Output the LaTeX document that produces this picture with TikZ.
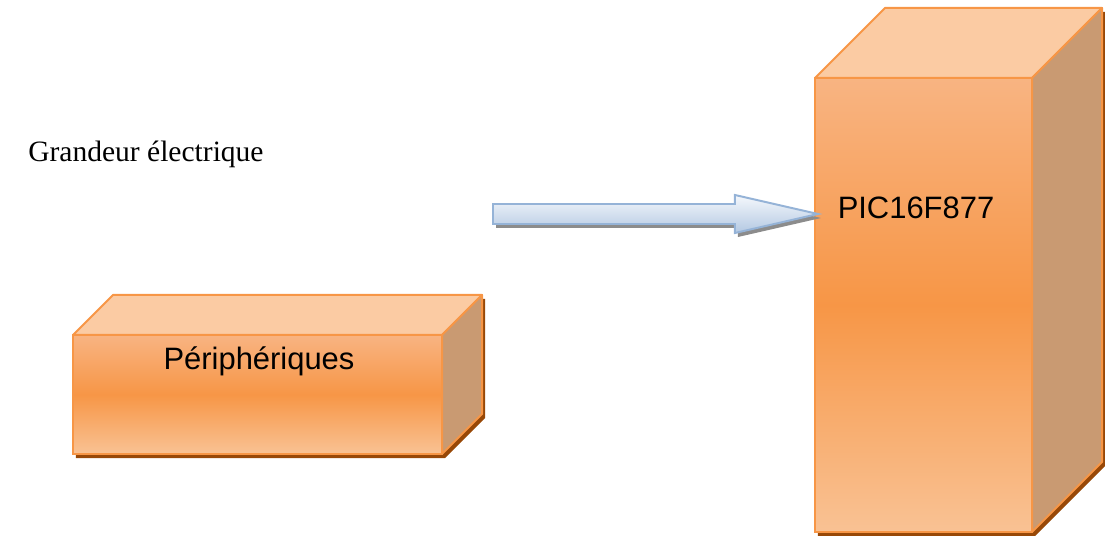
\documentclass[tikz,border=0pt]{standalone}
\usepackage{fontspec}
\setmainfont{Liberation Serif}
\setsansfont{Liberation Sans}
\usepackage{tikz}
\usetikzlibrary{positioning,calc,backgrounds}
\definecolor{boxEdge}{HTML}{F79646}
\definecolor{boxHigh}{HTML}{F8B482}
\definecolor{boxLow}{HTML}{F9C294}
\definecolor{boxTop}{HTML}{FBCBA3}
\definecolor{boxSide}{HTML}{C99A72}
\definecolor{boxShade}{HTML}{984807}
\definecolor{arrEdge}{HTML}{95B3D7}
\definecolor{arrHigh}{HTML}{F5F8FC}
\definecolor{arrLow}{HTML}{B3C8E2}
\tikzset{
  front/.style={draw=boxEdge, line width=1.4pt, inner sep=0pt, outer sep=0pt,
                top color=boxHigh, bottom color=boxLow, middle color=boxEdge},
  topface/.style={draw=boxEdge, line width=1.4pt, fill=boxTop, line join=round},
  sideface/.style={draw=boxEdge, line width=1.4pt, fill=boxSide, line join=round},
  dropshade/.style={fill=boxShade},
  boxtext/.style={font=\sffamily\fontsize{22}{26}\selectfont, inner sep=0pt},
  caption/.style={font=\rmfamily\fontsize{21}{25}\selectfont, inner sep=0pt},
  blockarrow/.style={draw=arrEdge, line width=1.4pt, line join=miter,
                     top color=arrHigh, bottom color=arrLow},
  arrowshade/.style={fill=black!45}
}

\begin{document}
\begin{tikzpicture}[x=0.025cm, y=-0.025cm]
    \useasboundingbox (0,0) rectangle (1105,536);

    %% peripherals block (depth 40)
    \node[front, minimum width=9.225cm, minimum height=2.975cm] (per) at (257.5,394.5) {};
    \begin{scope}[on background layer]
      \fill[dropshade] ([shift={(3,4)}]per.north west) -- ([shift={(43,-36)}]per.north west)
          -- ([shift={(43,-36)}]per.north east) -- ([shift={(43,-36)}]per.south east)
          -- ([shift={(3,4)}]per.south east) -- ([shift={(3,4)}]per.south west) -- cycle;
    \end{scope}
    \filldraw[topface] (per.north west) -- ([shift={(40,-40)}]per.north west)
        -- ([shift={(40,-40)}]per.north east) -- (per.north east) -- cycle;
    \filldraw[sideface] (per.north east) -- ([shift={(40,-40)}]per.north east)
        -- ([shift={(40,-40)}]per.south east) -- (per.south east) -- cycle;
    \node[boxtext, anchor=base] (pertext) at (259,370) {Périphériques};

    %% microcontroller block (depth 70)
    \node[front, minimum width=5.425cm, minimum height=11.35cm] (pic) at (923.5,305) {};
    \begin{scope}[on background layer]
      \fill[dropshade] ([shift={(3,4)}]pic.north west) -- ([shift={(73,-66)}]pic.north west)
          -- ([shift={(73,-66)}]pic.north east) -- ([shift={(73,-66)}]pic.south east)
          -- ([shift={(3,4)}]pic.south east) -- ([shift={(3,4)}]pic.south west) -- cycle;
    \end{scope}
    \filldraw[topface] (pic.north west) -- ([shift={(70,-70)}]pic.north west)
        -- ([shift={(70,-70)}]pic.north east) -- (pic.north east) -- cycle;
    \filldraw[sideface] (pic.north east) -- ([shift={(70,-70)}]pic.north east)
        -- ([shift={(70,-70)}]pic.south east) -- (pic.south east) -- cycle;
    \node[boxtext, anchor=base] (pictext) at (916,219) {PIC16F877};

    %% measured quantity
    \node[caption, anchor=base west] (grandeur) at (28,162) {Grandeur électrique};

    %% block arrow into the PIC
    \coordinate (src) at (493,214);
    \coordinate (tip) at ($(pic.west |- src)+(3,0)$);
    \fill[arrowshade] ([shift={(3,-6)}]src) -- ([shift={(-80,-6)}]tip)
        -- ([shift={(-80,-15)}]tip) -- ([shift={(3,4)}]tip) -- ([shift={(-80,23)}]tip)
        -- ([shift={(-80,14)}]tip) -- ([shift={(3,14)}]src) -- cycle;
    \path[blockarrow] ([shift={(0,-10)}]src) -- ([shift={(-83,-10)}]tip)
        -- ([shift={(-83,-19)}]tip) -- (tip) -- ([shift={(-83,19)}]tip)
        -- ([shift={(-83,10)}]tip) -- ([shift={(0,10)}]src) -- cycle;
  \end{tikzpicture}
\end{document}
